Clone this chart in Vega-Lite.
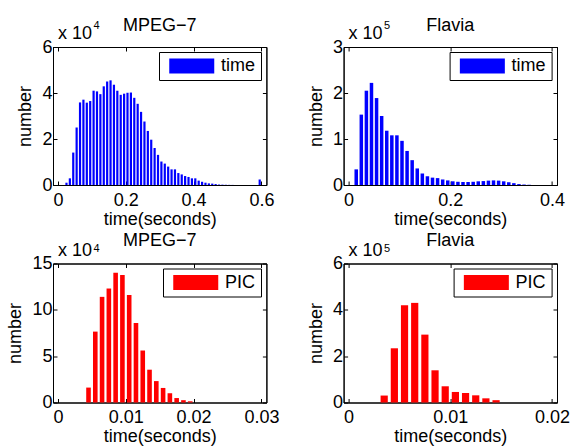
{
  "$schema": "https://vega.github.io/schema/vega-lite/v6.json",
  "background": "white",
  "padding": {"left": 6, "top": 16, "right": 0, "bottom": 0},
  "datasets": {
    "mpeg_time": [
      {"t": 0.025, "n": 1000, "s": "time"}, {"t": 0.035, "n": 2900, "s": "time"}, {"t": 0.045, "n": 14100, "s": "time"},
      {"t": 0.055, "n": 25000, "s": "time"}, {"t": 0.065, "n": 35900, "s": "time"}, {"t": 0.075, "n": 37100, "s": "time"},
      {"t": 0.085, "n": 35800, "s": "time"}, {"t": 0.095, "n": 36500, "s": "time"}, {"t": 0.105, "n": 41000, "s": "time"},
      {"t": 0.115, "n": 40700, "s": "time"}, {"t": 0.125, "n": 39500, "s": "time"}, {"t": 0.135, "n": 42900, "s": "time"},
      {"t": 0.145, "n": 45000, "s": "time"}, {"t": 0.155, "n": 45500, "s": "time"}, {"t": 0.165, "n": 43600, "s": "time"},
      {"t": 0.175, "n": 41000, "s": "time"}, {"t": 0.185, "n": 39200, "s": "time"}, {"t": 0.195, "n": 39700, "s": "time"},
      {"t": 0.205, "n": 40100, "s": "time"}, {"t": 0.215, "n": 40200, "s": "time"}, {"t": 0.225, "n": 37900, "s": "time"},
      {"t": 0.235, "n": 35300, "s": "time"}, {"t": 0.245, "n": 31800, "s": "time"}, {"t": 0.255, "n": 27600, "s": "time"},
      {"t": 0.265, "n": 23500, "s": "time"}, {"t": 0.275, "n": 19700, "s": "time"}, {"t": 0.285, "n": 16100, "s": "time"},
      {"t": 0.295, "n": 13100, "s": "time"}, {"t": 0.305, "n": 10200, "s": "time"}, {"t": 0.315, "n": 9300, "s": "time"},
      {"t": 0.325, "n": 8000, "s": "time"}, {"t": 0.335, "n": 6800, "s": "time"}, {"t": 0.345, "n": 6800, "s": "time"},
      {"t": 0.355, "n": 5200, "s": "time"}, {"t": 0.365, "n": 4600, "s": "time"}, {"t": 0.375, "n": 3900, "s": "time"},
      {"t": 0.385, "n": 3500, "s": "time"}, {"t": 0.395, "n": 2900, "s": "time"}, {"t": 0.405, "n": 2900, "s": "time"},
      {"t": 0.415, "n": 1900, "s": "time"}, {"t": 0.425, "n": 1400, "s": "time"}, {"t": 0.435, "n": 1000, "s": "time"},
      {"t": 0.445, "n": 700, "s": "time"}, {"t": 0.455, "n": 600, "s": "time"}, {"t": 0.465, "n": 400, "s": "time"},
      {"t": 0.475, "n": 200, "s": "time"}, {"t": 0.485, "n": 150, "s": "time"}, {"t": 0.495, "n": 100, "s": "time"},
      {"t": 0.505, "n": 60, "s": "time"}, {"t": 0.515, "n": 40, "s": "time"}, {"t": 0.595, "n": 2400, "s": "time"}
    ],
    "flavia_time": [
      {"t": 0.015, "n": 34000, "s": "time"}, {"t": 0.025, "n": 153000, "s": "time"}, {"t": 0.035, "n": 205000, "s": "time"},
      {"t": 0.045, "n": 222000, "s": "time"}, {"t": 0.055, "n": 189000, "s": "time"}, {"t": 0.065, "n": 150000, "s": "time"},
      {"t": 0.075, "n": 118000, "s": "time"}, {"t": 0.085, "n": 108000, "s": "time"}, {"t": 0.095, "n": 108000, "s": "time"},
      {"t": 0.105, "n": 96000, "s": "time"}, {"t": 0.115, "n": 74000, "s": "time"}, {"t": 0.125, "n": 54000, "s": "time"},
      {"t": 0.135, "n": 36000, "s": "time"}, {"t": 0.145, "n": 25000, "s": "time"}, {"t": 0.155, "n": 19000, "s": "time"},
      {"t": 0.165, "n": 16000, "s": "time"}, {"t": 0.175, "n": 15000, "s": "time"}, {"t": 0.185, "n": 12000, "s": "time"},
      {"t": 0.195, "n": 10000, "s": "time"}, {"t": 0.205, "n": 8000, "s": "time"}, {"t": 0.215, "n": 7000, "s": "time"},
      {"t": 0.225, "n": 6500, "s": "time"}, {"t": 0.235, "n": 6500, "s": "time"}, {"t": 0.245, "n": 7000, "s": "time"},
      {"t": 0.255, "n": 8000, "s": "time"}, {"t": 0.265, "n": 8500, "s": "time"}, {"t": 0.275, "n": 9500, "s": "time"},
      {"t": 0.285, "n": 10000, "s": "time"}, {"t": 0.295, "n": 9500, "s": "time"}, {"t": 0.305, "n": 8000, "s": "time"},
      {"t": 0.315, "n": 6000, "s": "time"}, {"t": 0.325, "n": 4000, "s": "time"}, {"t": 0.335, "n": 2000, "s": "time"},
      {"t": 0.345, "n": 1000, "s": "time"}, {"t": 0.355, "n": 500, "s": "time"}
    ],
    "mpeg_pic": [
      {"t": 0.0045, "n": 16100, "s": "PIC"}, {"t": 0.0055, "n": 76500, "s": "PIC"}, {"t": 0.0065, "n": 114000, "s": "PIC"},
      {"t": 0.0075, "n": 123000, "s": "PIC"}, {"t": 0.0085, "n": 140000, "s": "PIC"}, {"t": 0.0095, "n": 137700, "s": "PIC"},
      {"t": 0.0105, "n": 116000, "s": "PIC"}, {"t": 0.0115, "n": 85800, "s": "PIC"}, {"t": 0.0125, "n": 56100, "s": "PIC"},
      {"t": 0.0135, "n": 35400, "s": "PIC"}, {"t": 0.0145, "n": 23100, "s": "PIC"}, {"t": 0.0155, "n": 15700, "s": "PIC"},
      {"t": 0.0165, "n": 10000, "s": "PIC"}, {"t": 0.0175, "n": 4800, "s": "PIC"}, {"t": 0.0185, "n": 2500, "s": "PIC"},
      {"t": 0.0195, "n": 1300, "s": "PIC"}
    ],
    "flavia_pic": [
      {"t": 0.0035, "n": 30000, "s": "PIC"}, {"t": 0.0045, "n": 234000, "s": "PIC"}, {"t": 0.0055, "n": 420000, "s": "PIC"},
      {"t": 0.0065, "n": 430000, "s": "PIC"}, {"t": 0.0075, "n": 293000, "s": "PIC"}, {"t": 0.0085, "n": 139000, "s": "PIC"},
      {"t": 0.0095, "n": 70000, "s": "PIC"}, {"t": 0.0105, "n": 45500, "s": "PIC"}, {"t": 0.0115, "n": 41000, "s": "PIC"},
      {"t": 0.0125, "n": 31000, "s": "PIC"}, {"t": 0.0135, "n": 18000, "s": "PIC"}, {"t": 0.0145, "n": 10000, "s": "PIC"}
    ]
  },
  "config": {
    "font": "Liberation Sans",
    "view": {"stroke": "black", "strokeWidth": 1},
    "axis": {
      "labelFont": "Liberation Sans", "labelFontSize": 18, "labelColor": "black",
      "titleFont": "Liberation Sans", "titleFontSize": 18, "titleFontWeight": "normal", "titleColor": "black",
      "domainColor": "black", "tickColor": "black", "tickWidth": 1, "tickSize": -4,
      "grid": false, "labelFlush": false, "labelOverlap": false
    },
    "axisX": {"labelPadding": 10, "titlePadding": 1},
    "axisY": {"labelPadding": 5, "titlePadding": 7},
    "title": {"font": "Liberation Sans", "fontSize": 18, "fontWeight": "normal", "color": "black"},
    "legend": {
      "orient": "top-right", "offset": 5, "title": null, "strokeColor": "black", "fillColor": "white",
      "padding": 5, "symbolType": "M-0.5,-1H5.5V1H-0.5Z", "symbolSize": 225, "symbolStrokeWidth": 0,
      "symbolOpacity": 1, "labelFont": "Liberation Sans", "labelFontSize": 18, "labelColor": "black", "labelOffset": 39
    },
    "text": {"font": "Liberation Sans", "color": "black"}
  },
  "columns": 2,
  "spacing": {"row": 78.5, "column": 76.6},
  "bounds": "flush",
  "resolve": {"scale": {"color": "independent"}},
  "concat": [
    {
      "width": 213.4, "height": 138,
      "title": {"text": "MPEG−7", "offset": -15},
      "layer": [
        {
          "data": {"name": "mpeg_time"},
          "mark": {"type": "bar", "width": 2.2},
          "encoding": {
            "x": {"field": "t", "type": "quantitative", "scale": {"domain": [0, 0.6], "nice": false},
                  "axis": {"values": [0, 0.2, 0.4, 0.6], "title": "time(seconds)", "labelExpr": "'' + datum.value"}},
            "y": {"field": "n", "type": "quantitative", "scale": {"domain": [0, 60000], "nice": false},
                  "axis": {"values": [0, 20000, 40000, 60000], "title": "number", "labelExpr": "'' + round(datum.value / 10000)"}},
            "color": {"field": "s", "type": "nominal", "scale": {"domain": ["time"], "range": ["#0000ff"]}}
          }
        },
        {
          "data": {"values": [{"m": "x 10", "e": "4"}]},
          "mark": {"type": "text", "align": "left", "baseline": "alphabetic", "dy": -8, "fontSize": 18},
          "encoding": {
            "x": {"datum": 0, "type": "quantitative", "axis": {"orient": "top", "labels": false, "title": null, "values": [0, 0.2, 0.4, 0.6]}},
            "y": {"datum": 60000, "type": "quantitative", "axis": {"orient": "right", "labels": false, "title": null, "values": [0, 20000, 40000, 60000]}},
            "text": {"field": "m"}
          }
        },
        {
          "data": {"values": [{"m": "x 10", "e": "4"}]},
          "mark": {"type": "text", "align": "left", "baseline": "alphabetic", "dx": 35.5, "dy": -18, "fontSize": 11},
          "encoding": {
            "x": {"datum": 0, "type": "quantitative", "axis": null},
            "y": {"datum": 60000, "type": "quantitative", "axis": null},
            "text": {"field": "e"}
          }
        }
      ],
      "resolve": {"axis": {"x": "independent", "y": "independent"}}
    },
    {
      "width": 213.4, "height": 138,
      "title": {"text": "Flavia", "offset": -15},
      "layer": [
        {
          "data": {"name": "flavia_time"},
          "mark": {"type": "bar", "width": 3.5},
          "encoding": {
            "x": {"field": "t", "type": "quantitative", "scale": {"domain": [0, 0.4], "nice": false},
                  "axis": {"values": [0, 0.2, 0.4], "title": "time(seconds)", "labelExpr": "'' + datum.value"}},
            "y": {"field": "n", "type": "quantitative", "scale": {"domain": [0, 300000], "nice": false},
                  "axis": {"values": [0, 100000, 200000, 300000], "title": "number", "labelExpr": "'' + round(datum.value / 100000)"}},
            "color": {"field": "s", "type": "nominal", "scale": {"domain": ["time"], "range": ["#0000ff"]}}
          }
        },
        {
          "data": {"values": [{"m": "x 10", "e": "5"}]},
          "mark": {"type": "text", "align": "left", "baseline": "alphabetic", "dy": -8, "fontSize": 18},
          "encoding": {
            "x": {"datum": 0, "type": "quantitative", "axis": {"orient": "top", "labels": false, "title": null, "values": [0, 0.2, 0.4]}},
            "y": {"datum": 300000, "type": "quantitative", "axis": {"orient": "right", "labels": false, "title": null, "values": [0, 100000, 200000, 300000]}},
            "text": {"field": "m"}
          }
        },
        {
          "data": {"values": [{"m": "x 10", "e": "5"}]},
          "mark": {"type": "text", "align": "left", "baseline": "alphabetic", "dx": 35.5, "dy": -18, "fontSize": 11},
          "encoding": {
            "x": {"datum": 0, "type": "quantitative", "axis": null},
            "y": {"datum": 300000, "type": "quantitative", "axis": null},
            "text": {"field": "e"}
          }
        }
      ],
      "resolve": {"axis": {"x": "independent", "y": "independent"}}
    },
    {
      "width": 213.4, "height": 139,
      "title": {"text": "MPEG−7", "offset": -8.7},
      "layer": [
        {
          "data": {"name": "mpeg_pic"},
          "mark": {"type": "bar", "width": 4.6},
          "encoding": {
            "x": {"field": "t", "type": "quantitative", "scale": {"domain": [0, 0.03], "nice": false},
                  "axis": {"values": [0, 0.01, 0.02, 0.03], "title": "time(seconds)", "labelExpr": "'' + datum.value"}},
            "y": {"field": "n", "type": "quantitative", "scale": {"domain": [0, 150000], "nice": false},
                  "axis": {"values": [0, 50000, 100000, 150000], "title": "number", "labelExpr": "'' + round(datum.value / 10000)"}},
            "color": {"field": "s", "type": "nominal", "scale": {"domain": ["PIC"], "range": ["#ff0000"]}}
          }
        },
        {
          "data": {"values": [{"m": "x 10", "e": "4"}]},
          "mark": {"type": "text", "align": "left", "baseline": "alphabetic", "dy": -8, "fontSize": 18},
          "encoding": {
            "x": {"datum": 0, "type": "quantitative", "axis": {"orient": "top", "labels": false, "title": null, "values": [0, 0.01, 0.02, 0.03]}},
            "y": {"datum": 150000, "type": "quantitative", "axis": {"orient": "right", "labels": false, "title": null, "values": [0, 50000, 100000, 150000]}},
            "text": {"field": "m"}
          }
        },
        {
          "data": {"values": [{"m": "x 10", "e": "4"}]},
          "mark": {"type": "text", "align": "left", "baseline": "alphabetic", "dx": 35.5, "dy": -12, "fontSize": 11},
          "encoding": {
            "x": {"datum": 0, "type": "quantitative", "axis": null},
            "y": {"datum": 150000, "type": "quantitative", "axis": null},
            "text": {"field": "e"}
          }
        }
      ],
      "resolve": {"axis": {"x": "independent", "y": "independent"}}
    },
    {
      "width": 213.4, "height": 139,
      "title": {"text": "Flavia", "offset": -8.7},
      "layer": [
        {
          "data": {"name": "flavia_pic"},
          "mark": {"type": "bar", "width": 7.2},
          "encoding": {
            "x": {"field": "t", "type": "quantitative", "scale": {"domain": [0, 0.02], "nice": false},
                  "axis": {"values": [0, 0.01, 0.02], "title": "time(seconds)", "labelExpr": "'' + datum.value"}},
            "y": {"field": "n", "type": "quantitative", "scale": {"domain": [0, 600000], "nice": false},
                  "axis": {"values": [0, 200000, 400000, 600000], "title": "number", "labelExpr": "'' + round(datum.value / 100000)"}},
            "color": {"field": "s", "type": "nominal", "scale": {"domain": ["PIC"], "range": ["#ff0000"]}}
          }
        },
        {
          "data": {"values": [{"m": "x 10", "e": "5"}]},
          "mark": {"type": "text", "align": "left", "baseline": "alphabetic", "dy": -8, "fontSize": 18},
          "encoding": {
            "x": {"datum": 0, "type": "quantitative", "axis": {"orient": "top", "labels": false, "title": null, "values": [0, 0.01, 0.02]}},
            "y": {"datum": 600000, "type": "quantitative", "axis": {"orient": "right", "labels": false, "title": null, "values": [0, 200000, 400000, 600000]}},
            "text": {"field": "m"}
          }
        },
        {
          "data": {"values": [{"m": "x 10", "e": "5"}]},
          "mark": {"type": "text", "align": "left", "baseline": "alphabetic", "dx": 35.5, "dy": -12, "fontSize": 11},
          "encoding": {
            "x": {"datum": 0, "type": "quantitative", "axis": null},
            "y": {"datum": 600000, "type": "quantitative", "axis": null},
            "text": {"field": "e"}
          }
        }
      ],
      "resolve": {"axis": {"x": "independent", "y": "independent"}}
    }
  ]
}
